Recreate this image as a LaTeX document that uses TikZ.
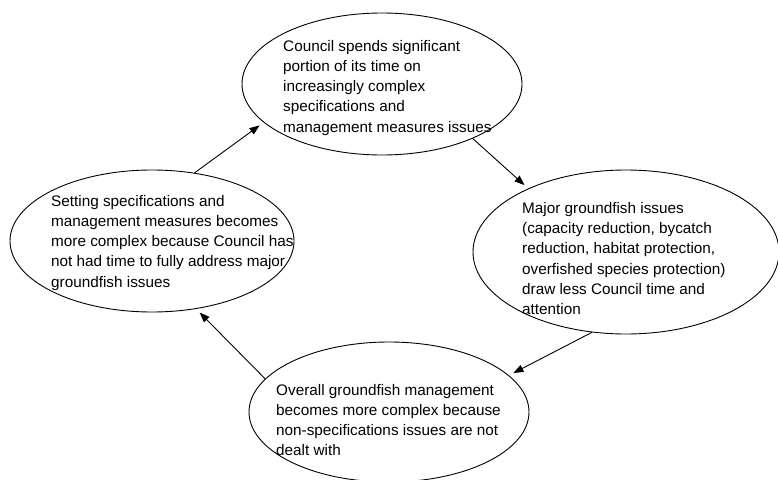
\documentclass[tikz,border=0pt]{standalone}
\usepackage{fontspec}
\setmainfont{Liberation Sans}
\usetikzlibrary{shapes.geometric,arrows.meta}
\begin{document}
\begin{tikzpicture}[x=1pt,y=-1pt,
  ell/.style={draw, ellipse, line width=0.9pt, inner sep=0pt},
  txt/.style={anchor=base west, align=left, inner sep=0pt,
    font=\fontsize{15.3pt}{20.3pt}\selectfont},
  arr/.style={line width=0.9pt, -{Triangle[length=10pt,width=7.5pt]}, shorten >=5pt}]
\useasboundingbox (0,0) rectangle (778,479);
\clip (0,0) rectangle (778,479);
\node[ell, minimum width=280pt, minimum height=142pt] (t) at (382,84) {};
\node[ell, minimum width=284pt, minimum height=142pt] (l) at (152,241) {};
\node[ell, minimum width=306pt, minimum height=164pt] (r) at (626,252) {};
\node[ell, minimum width=280pt, minimum height=140pt] (b) at (389,412) {};
\node[txt] (tt) at (283,132.2) {Council spends significant\\portion of its time on\\increasingly complex\\specifications and\\management measures issues};
\node[txt] (lt) at (51,287.2) {Setting specifications and\\management measures becomes\\more complex because Council has\\not had time to fully address major\\groundfish issues};
\node[txt] (rt) at (522,314.8) {Major groundfish issues\\(capacity reduction, bycatch\\reduction, habitat protection,\\overfished species protection)\\draw less Council time and\\attention};
\node[txt] (bt) at (276,455.9) {Overall groundfish management\\becomes more complex because\\non-specifications issues are not\\dealt with};
\draw[arr] (l.58) -- (t.198);
\draw[arr] (t.-31) -- (r.147);
\draw[arr] (r.247) -- (b.17);
\draw[arr] (b.165) -- (l.-57);
\end{tikzpicture}
\end{document}
